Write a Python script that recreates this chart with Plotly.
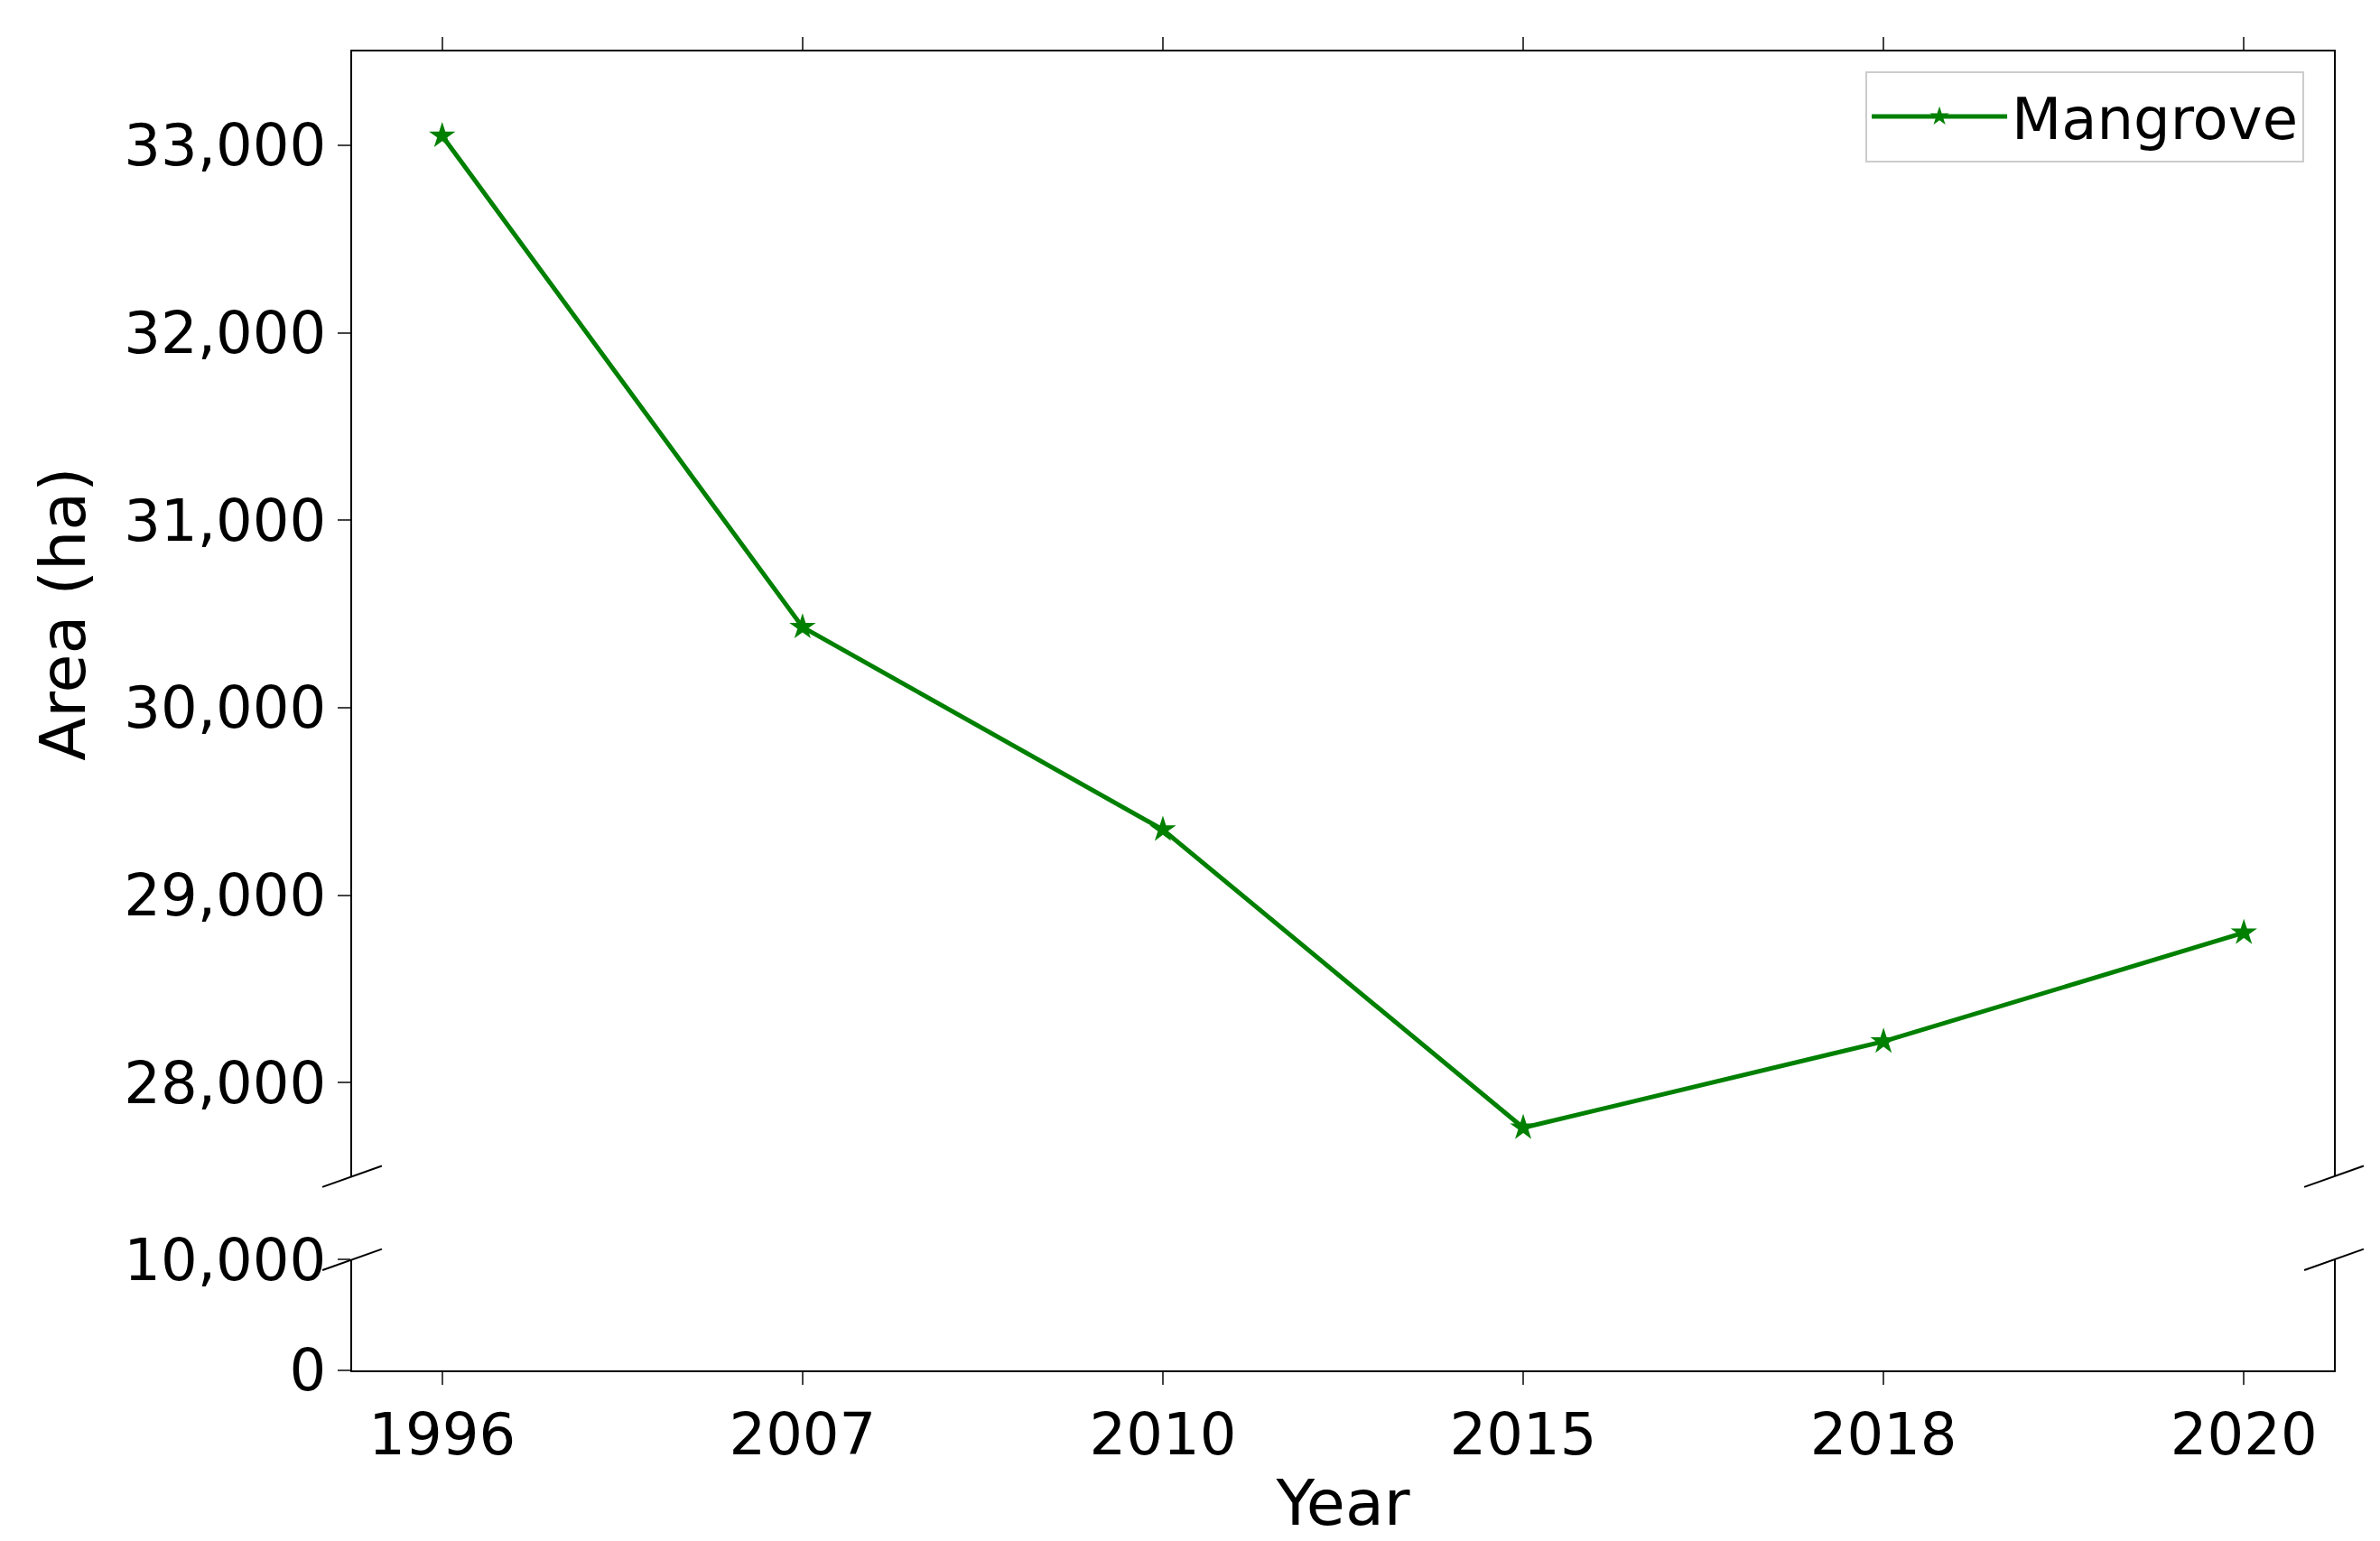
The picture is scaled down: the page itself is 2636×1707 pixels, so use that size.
import plotly.graph_objects as go
from plotly.subplots import make_subplots

years = ["1996", "2007", "2010", "2015", "2018", "2020"]
area = [33050, 30430, 29350, 27760, 28220, 28800]
top_ticks = [28000, 29000, 30000, 31000, 32000, 33000]
bot_ticks = [0, 10000]

green = "#008000"
fig = make_subplots(rows=2, cols=1, shared_xaxes=True, vertical_spacing=0,
                    row_heights=[0.084, 0.916])
for r, show in [(1, True), (2, False)]:
    fig.add_trace(go.Scatter(x=years, y=area, mode="lines+markers", name="Mangrove",
                             line=dict(color=green, width=5),
                             marker=dict(symbol="star", size=22, color=green),
                             showlegend=show), row=r, col=1)

F = "DejaVu Sans"
fig.update_layout(
    width=2636, height=1707, margin=dict(l=382, r=59, t=42, b=197),
    paper_bgcolor="white", plot_bgcolor="white",
    font=dict(family=F, size=64, color="black"),
    legend=dict(x=0.985, y=0.985, xanchor="right", yanchor="top", itemwidth=150,
                bordercolor="#cccccc", borderwidth=2, font=dict(size=64)),
    xaxis=dict(domain=[0, 1], anchor="y", type="category", range=[-0.25, 5.25],
               showline=True, linecolor="black", linewidth=2, ticks="outside",
               ticklen=14, tickwidth=2, showticklabels=True,
               title=dict(text="Year", font=dict(size=70), standoff=15),
               showgrid=False),
    xaxis2=dict(domain=[0, 1], anchor="y2", type="category", range=[-0.25, 5.25],
                matches="x", side="top", showline=True, linecolor="black", linewidth=2,
                ticks="outside", ticklen=14, tickwidth=2, showticklabels=False,
                showgrid=False),
    yaxis=dict(domain=[0, 0.084], range=[0, 10000], tickvals=bot_ticks,
               tickformat=",", showline=True, linecolor="black", linewidth=2,
               mirror=True, ticks="outside", ticklen=14, tickwidth=2, showgrid=False,
               zeroline=False),
    yaxis2=dict(domain=[0.147, 1], range=[27500, 33500], tickvals=top_ticks,
                tickformat=",", showline=True, linecolor="black", linewidth=2,
                mirror=True, ticks="outside", ticklen=14, tickwidth=2, showgrid=False,
                zeroline=False, title=dict(text="Area (ha)", font=dict(size=70), standoff=20)),
)
for y0 in [0.084, 0.147]:
    fig.add_shape(type="line", xref="paper", yref="paper", x0=0.001, x1=0.999,
                  y0=y0, y1=y0, line=dict(color="white", width=4))
for y0 in [0.084, 0.147]:
    for x0 in [0, 1]:
        fig.add_shape(type="line", xref="paper", yref="paper", x0=x0 - 0.015, x1=x0 + 0.015,
                      y0=y0 - 0.008, y1=y0 + 0.008, line=dict(color="black", width=2))
fig.write_html("out.html")
